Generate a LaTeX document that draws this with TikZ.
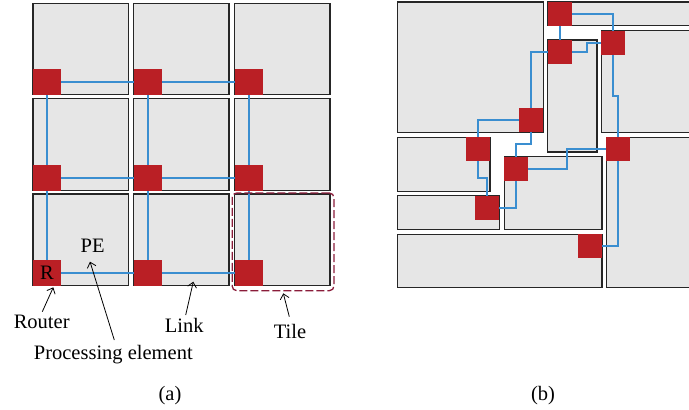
\documentclass[tikz,border=0pt]{standalone}
\usepackage{fontspec}
\setmainfont{Liberation Serif}
\usetikzlibrary{arrows.meta,calc}
\definecolor{tilefill}{RGB}{230,230,230}
\definecolor{rtred}{RGB}{186,31,37}
\definecolor{lnkblue}{RGB}{58,142,208}
\definecolor{dashred}{RGB}{138,28,58}
\tikzset{
  blk/.style={draw=black!85, line width=1.2pt, fill=tilefill, inner sep=0pt, outer sep=0pt, anchor=north west},
  rtr/.style={fill=rtred, draw=none, inner sep=0pt, outer sep=0pt, anchor=north west},
  lnk/.style={draw=lnkblue, line width=1.8pt},
  lbl/.style={font=\fontsize{20.5}{23}\selectfont, inner sep=1pt},
  arr/.style={-{Straight Barb[length=5pt,width=9pt]}, line width=0.8pt}
}
\newcommand\bx[6]{\node[#2, minimum width={(#5-#3)*1pt}, minimum height={(#6-#4)*1pt}] (#1) at (#3,#4) {};}
\begin{document}
\begin{tikzpicture}[x=1pt,y=-1pt]
\useasboundingbox (0,0) rectangle (689,410);
\clip (0,0) rectangle (689,410);
% ---------- (a) ----------
\bx{t11}{blk}{33}{3.3}{128.7}{94.7}
\bx{t12}{blk}{133.3}{3.3}{229}{94.7}
\bx{t13}{blk}{234.3}{3.3}{330}{94.7}
\bx{t21}{blk}{33}{98.7}{128.7}{190.3}
\bx{t22}{blk}{133.3}{98.7}{229}{190.3}
\bx{t23}{blk}{234.3}{98.7}{330}{190.3}
\bx{t31}{blk}{33}{194}{128.7}{285.7}
\bx{t32}{blk}{133.3}{194}{229}{285.7}
\bx{t33}{blk}{234.3}{194}{330}{285.7}
\bx{r11}{rtr}{33}{69}{61}{95}
\bx{r12}{rtr}{134}{69}{162}{95}
\bx{r13}{rtr}{235}{69}{263}{95}
\bx{r21}{rtr}{33}{165}{61}{191}
\bx{r22}{rtr}{134}{165}{162}{191}
\bx{r23}{rtr}{235}{165}{263}{191}
\bx{r31}{rtr}{33}{260}{61}{286}
\bx{r32}{rtr}{134}{260}{162}{286}
\bx{r33}{rtr}{235}{260}{263}{286}
\draw[lnk] (r11.east) -- (r12.west);
\draw[lnk] (r12.east) -- (r13.west);
\draw[lnk] (r21.east) -- (r22.west);
\draw[lnk] (r22.east) -- (r23.west);
\draw[lnk] (r31.east) -- (r32.west);
\draw[lnk] (r32.east) -- (r33.west);
\draw[lnk] (r11.south) -- (r21.north);
\draw[lnk] (r21.south) -- (r31.north);
\draw[lnk] (r12.south) -- (r22.north);
\draw[lnk] (r22.south) -- (r32.north);
\draw[lnk] (r13.south) -- (r23.north);
\draw[lnk] (r23.south) -- (r33.north);
\node[draw=dashred, line width=1.3pt, dash pattern=on 8pt off 3pt, rounded corners=4.5pt,
  inner sep=0pt, anchor=north west, minimum width=101.8pt, minimum height=97.6pt] (tilebox) at (231.5,192.4) {};
\node[lbl] (rlab) at (r31.center) {R};
\node[lbl] (pe) at (92.7,246) {PE};
\node[lbl] (lrouter) at (41.7,322) {Router};
\node[lbl] (llink) at (184.3,325) {Link};
\node[lbl] (ltile) at (290,331.7) {Tile};
\node[lbl] (lpe) at (113.3,355) {Processing element};
\node[lbl] (capa) at (170,396) {(a)};
\coordinate (tipr) at (53.3,287.3);
\coordinate (tippe) at (90,261.7);
\coordinate (tipl) at (193.3,281.7);
\coordinate (tipt) at (283.3,293.3);
\coordinate (tailr) at (42.3,311.7);
\coordinate (tailpe) at (114.3,340);
\coordinate (taill) at (185.7,315);
\coordinate (tailt) at (289.3,316.7);
\draw[arr] (tailr) -- (tipr);
\draw[arr] (tailpe) -- (tippe);
\draw[arr] (taill) -- (tipl);
\draw[arr] (tailt) -- (tipt);
% ---------- (b) ----------
\bx{p1}{blk}{397.3}{2}{543.3}{132.3}
\bx{p2}{blk}{547.7}{2}{695}{25.7}
\bx{p3}{blk}{547.7}{40}{597}{152}
\bx{p4}{blk}{601.3}{30.7}{695}{132.3}
\bx{p5}{blk}{397.3}{137.3}{490}{191.7}
\bx{p6}{blk}{397.3}{195.7}{499.7}{229.7}
\bx{p7}{blk}{504.3}{156.7}{602}{229.7}
\bx{p8}{blk}{606.3}{137.3}{695}{287.7}
\bx{p9}{blk}{397.3}{234.3}{602}{287.7}
\bx{ra}{rtr}{548}{2}{572}{26}
\bx{rb}{rtr}{548}{40}{572}{64}
\bx{rc}{rtr}{601}{31}{625}{55}
\bx{rd}{rtr}{519}{108}{543}{132}
\bx{re}{rtr}{466}{137}{490}{161}
\bx{rf}{rtr}{504}{157}{528}{181}
\bx{rg}{rtr}{606}{137}{630}{161}
\bx{rh}{rtr}{475}{196}{499}{220}
\bx{ri}{rtr}{578}{234}{602}{258}
\draw[lnk] (ra.east) -| (rc.north);
\draw[lnk] (ra.south) -- (rb.north);
\draw[lnk] (rb.east) -- ++(15,0) |- (rc.west);
\draw[lnk] (rb.west) -| (rd.north);
\draw[lnk] (rd.west) -| (re.north);
\draw[lnk] (rd.south) -- ++(0,12) -| (rf.north);
\draw[lnk] (rc.south) -- ++(0,41) -| (rg.north);
\draw[lnk] (re.south) -- ++(0,17) -| (rh.north);
\draw[lnk] (rh.east) -| (rf.south);
\draw[lnk] (rf.east) -- ++(39,0) |- (rg.west);
\draw[lnk] (rg.south) |- (ri.east);
\node[lbl] (capb) at (543,396) {(b)};
\end{tikzpicture}
\end{document}
